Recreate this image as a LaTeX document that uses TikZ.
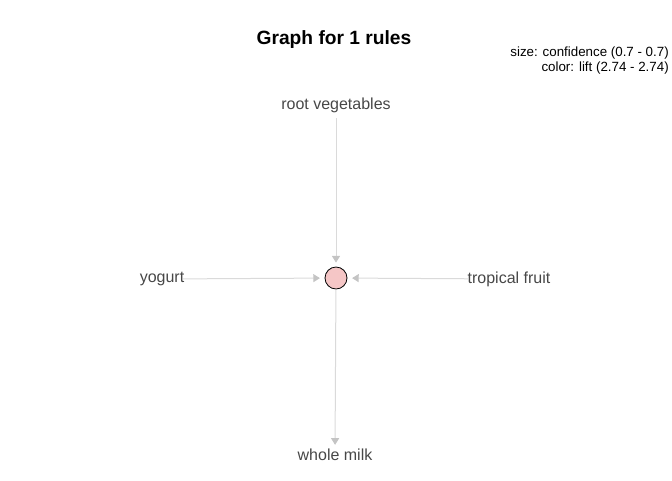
\documentclass[tikz,border=0pt]{standalone}
\usepackage{fontspec}
\setmainfont{Liberation Sans}
\usetikzlibrary{arrows.meta}
\definecolor{edgegray}{HTML}{DADADA}
\definecolor{tipgray}{HTML}{C4C4C4}
\definecolor{rulepink}{HTML}{F5C6C6}
\definecolor{itemtext}{HTML}{474747}

\begin{document}
\begin{tikzpicture}[
    x=0.75pt,
    y=-0.75pt,
    item/.style={
      text=itemtext,
      font=\fontsize{12}{14}\selectfont,
      inner sep=1pt},
    rule/.style={
      circle,
      draw=black,
      fill=rulepink,
      line width=0.6pt,
      minimum size=16.5pt,
      inner sep=0pt},
    edge/.style={
      draw=edgegray,
      line width=0.75pt,
      -{Triangle[length=5pt,width=6pt,fill=tipgray,color=tipgray]}},
  ]
  \useasboundingbox (0,0) rectangle (672,480);
  % title and legend
  \node[font=\fontsize{14.4}{16}\selectfont\bfseries] (title) at (334,40) {Graph for 1 rules};
  \node[anchor=east, font=\fontsize{10}{12}\selectfont, inner sep=0pt] (legsize) at (669,53) {size: confidence (0.7 - 0.7)};
  \node[anchor=east, font=\fontsize{10}{12}\selectfont, inner sep=0pt] (legcolor) at (669,68) {color: lift (2.74 - 2.74)};
  % rule
  \node[rule] (r1) at (336,278) {};
  % items
  \node[item] (rootveg) at (336,105) {root vegetables};
  \node[item] (yogurt) at (162,279) {yogurt};
  \node[item] (tropfruit) at (509,279) {tropical fruit};
  \node[item] (wholemilk) at (335,455) {whole milk};
  % edges
  \draw[edge, shorten <=3pt, shorten >=3pt] (rootveg) -- (r1);
  \draw[edge, shorten <=-2pt, shorten >=3.5pt] (yogurt) -- (r1);
  \draw[edge, shorten <=-2pt, shorten >=3.5pt] (tropfruit) -- (r1);
  \draw[edge, shorten >=2pt] (r1) -- (wholemilk);
\end{tikzpicture}
\end{document}
